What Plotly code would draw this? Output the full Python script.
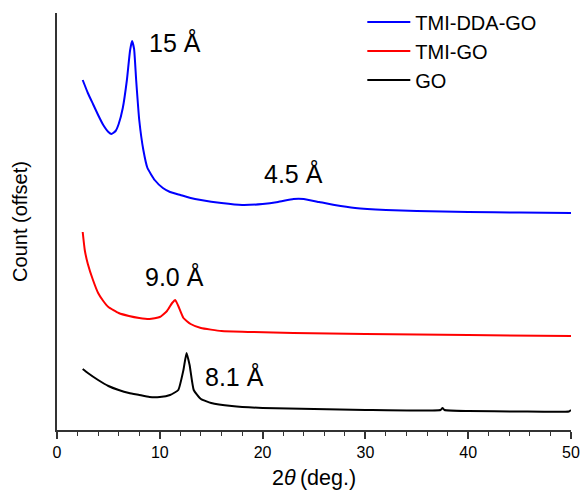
import plotly.graph_objects as go

# Counts are in arbitrary offset units
blue_x = [2.5, 3.0, 3.5, 4.0, 4.5, 5.0, 5.3, 5.7, 6.0, 6.4, 6.8, 7.1, 7.3, 7.5, 7.7, 8.0, 8.4, 8.8,
          9.5, 10.3, 11, 12, 13, 14, 16, 18, 20, 21.5, 23, 24, 25.5, 27, 29, 32, 35, 40, 45, 50]
blue_y = [351, 338, 327, 316, 306, 299, 297, 300, 307, 323, 351, 380, 390, 382, 351, 311, 281, 263,
          251, 243, 239, 236, 233, 231, 228, 226, 227, 229, 232, 232, 229, 226, 223, 221, 220, 219, 218.5, 218]

red_x = [2.5, 2.7, 3.0, 3.5, 4.0, 4.5, 5.0, 6.0, 7.0, 8.0, 9.0, 10.0, 10.7, 11.2, 11.5, 11.8, 12.3,
         13, 14, 16, 19, 23, 30, 40, 50]
red_y = [199, 181, 167, 151, 138, 130, 124, 118, 115, 113, 112, 114, 120, 128, 131, 125, 113,
         107, 103, 100, 99, 98, 97, 96, 95]

black_x = [2.5, 3.0, 4.0, 5.0, 6.0, 7.0, 8.0, 9.0, 10.0, 11.0, 11.8, 12.3, 12.6, 12.9, 13.3, 14.0,
           15.0, 17, 20, 25, 30, 37.3, 37.5, 37.7, 40, 45, 49.8, 50]
black_y = [62, 58, 51, 45, 41, 38, 36, 34, 34, 36, 41, 61, 78, 66, 41, 32,
           28, 25, 23, 22, 21, 21, 23, 21, 20, 19.5, 19.5, 21]

names = ["TMI-DDA-GO", "TMI-GO", "GO"]
colors = ["#0000ff", "#ff0000", "#000000"]

ann_text = ["15 Å", "4.5 Å", "9.0 Å", "8.1 Å"]
ann_x = [11.46, 23.04, 11.41, 17.3]
ann_y = [389, 258, 155, 55]

fig = go.Figure()
for xs, ys, n, c in [(blue_x, blue_y, names[0], colors[0]),
                     (red_x, red_y, names[1], colors[1]),
                     (black_x, black_y, names[2], colors[2])]:
    fig.add_trace(go.Scatter(x=xs, y=ys, mode="lines", name=n,
                             line=dict(color=c, width=2, shape="spline", smoothing=0.4)))

for t, x, y in zip(ann_text, ann_x, ann_y):
    fig.add_annotation(x=x, y=y, text=t, showarrow=False,
                       font=dict(size=25, color="#000"))

fig.update_layout(
    width=581, height=493,
    margin=dict(l=57, r=10, t=13, b=63, autoexpand=False),
    paper_bgcolor="white", plot_bgcolor="white",
    font=dict(family="Liberation Sans, Arial, sans-serif", color="#000"),
    showlegend=True,
    legend=dict(x=0.594, y=1.025, xanchor="left", yanchor="top",
                font=dict(size=20), bgcolor="rgba(0,0,0,0)",
                tracegroupgap=0, itemwidth=43),
    xaxis=dict(range=[0, 50], showgrid=False, zeroline=False, automargin=False,
               showline=True, linecolor="#333", linewidth=1.5,
               ticks="outside", ticklen=7, tickcolor="#333", tickwidth=1.5,
               dtick=10, tickfont=dict(size=16),
               minor=dict(ticks="outside", ticklen=4, dtick=2, tickcolor="#333", tickwidth=1.2),
               title=dict(text="2<i>θ</i>\u2009(deg.)", font=dict(size=21.5), standoff=10)),
    yaxis=dict(range=[1, 418], showgrid=False, zeroline=False, automargin=False,
               showline=True, linecolor="#333", linewidth=1.5,
               ticks="", showticklabels=False,
               title=dict(text="Count (offset)", font=dict(size=20), standoff=22)),
)

fig.write_html("out.html", config={"displayModeBar": False},
               post_script="document.body.style.margin='0px';")
